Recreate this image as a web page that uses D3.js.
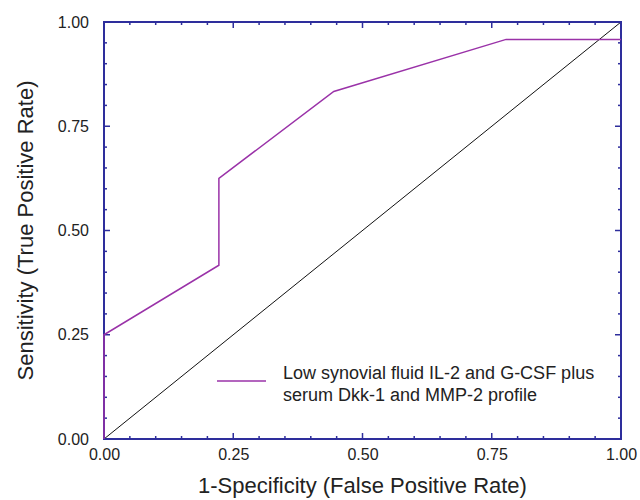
<!DOCTYPE html>
<html>
<head>
<meta charset="utf-8">
<script src="https://cdn.jsdelivr.net/npm/d3@7"></script>
<style>
  html, body { margin: 0; padding: 0; background: #fff; }
  svg { display: block; font-family: "Liberation Sans", Arial, sans-serif; }
</style>
</head>
<body>
<svg id="chart" width="640" height="500"></svg>
<script>
// ROC curve: false positive rate vs. true positive rate
const fpr = [0, 0, 2/9, 2/9, 4/9, 7/9, 1];
const tpr = [0, 6/24, 10/24, 15/24, 20/24, 23/24, 23/24];
const majorTicks = [0, 0.25, 0.5, 0.75, 1];
const minorTicks = d3.range(0, 1.0001, 0.05);
const seriesName = ["Low synovial fluid IL-2 and G-CSF plus", "serum Dkk-1 and MMP-2 profile"];

const svg = d3.select("#chart");
const plotL = 104, plotR = 621, plotT = 22, plotB = 439;
const x = d3.scaleLinear().domain([0, 1]).range([plotL, plotR]);
const y = d3.scaleLinear().domain([0, 1]).range([plotB, plotT]);

const axisColor = "#2e2e9c";
const curveColor = "#9a32a8";

// chance diagonal
svg.append("line")
  .attr("x1", x(0)).attr("y1", y(0)).attr("x2", x(1)).attr("y2", y(1))
  .attr("stroke", "#111").attr("stroke-width", 1);

// frame
svg.append("rect")
  .attr("x", plotL).attr("y", plotT).attr("width", plotR - plotL).attr("height", plotB - plotT)
  .attr("fill", "none").attr("stroke", axisColor).attr("stroke-width", 2);

// inward ticks on all four sides
const tickLen = v => (majorTicks.some(m => Math.abs(m - v) < 1e-6) ? 6 : 3);
const ticks = svg.append("g").attr("stroke", axisColor).attr("stroke-width", 1.5);
minorTicks.forEach(v => {
  const L = tickLen(v);
  ticks.append("line").attr("x1", x(v)).attr("x2", x(v)).attr("y1", plotB).attr("y2", plotB - L);
  ticks.append("line").attr("x1", x(v)).attr("x2", x(v)).attr("y1", plotT).attr("y2", plotT + L);
  ticks.append("line").attr("y1", y(v)).attr("y2", y(v)).attr("x1", plotL).attr("x2", plotL + L);
  ticks.append("line").attr("y1", y(v)).attr("y2", y(v)).attr("x1", plotR).attr("x2", plotR - L);
});

// tick labels via d3 axes (domain and tick lines hidden)
const fmt = d3.format(".2f");
const xAxis = svg.append("g").attr("transform", `translate(0,${plotB})`)
  .call(d3.axisBottom(x).tickValues(majorTicks).tickFormat(fmt).tickSize(0).tickPadding(10));
const yAxis = svg.append("g").attr("transform", `translate(${plotL},0)`)
  .call(d3.axisLeft(y).tickValues(majorTicks).tickFormat(fmt).tickSize(0).tickPadding(15));
[xAxis, yAxis].forEach(a => {
  a.select(".domain").remove();
  a.selectAll("text").attr("fill", "#222").style("font-size", "16px")
    .style("font-family", "'Liberation Sans', Arial, sans-serif");
});

// ROC curve
const line = d3.line().x(d => x(d[0])).y(d => y(d[1]));
svg.append("path")
  .datum(fpr.map((f, i) => [f, tpr[i]]))
  .attr("d", line)
  .attr("fill", "none").attr("stroke", curveColor).attr("stroke-width", 1.5);

// legend
svg.append("line").attr("x1", 217).attr("x2", 266).attr("y1", 381).attr("y2", 381)
  .attr("stroke", curveColor).attr("stroke-width", 1.5);
svg.append("text").attr("x", 283).attr("y", 379)
  .attr("fill", "#222").style("font-size", "18px")
  .selectAll("tspan").data(seriesName).join("tspan")
  .attr("x", 283).attr("dy", (d, i) => i === 0 ? 0 : 22).text(d => d);

// axis titles
svg.append("text").attr("x", (plotL + plotR) / 2).attr("y", 493)
  .attr("text-anchor", "middle").attr("fill", "#222").style("font-size", "22px")
  .text("1-Specificity (False Positive Rate)");
svg.append("text")
  .attr("transform", `translate(33,${(plotT + plotB) / 2}) rotate(-90)`)
  .attr("text-anchor", "middle").attr("fill", "#222").style("font-size", "22px")
  .text("Sensitivity (True Positive Rate)");
</script>
</body>
</html>
